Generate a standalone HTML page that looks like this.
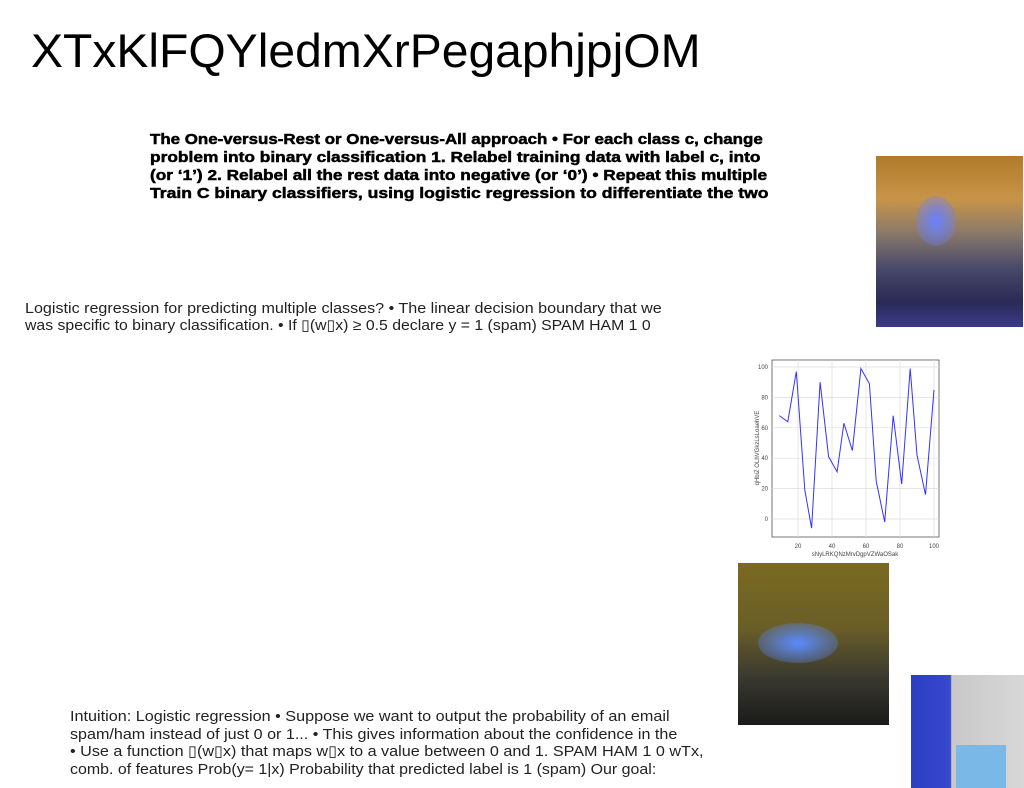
<!DOCTYPE html>
<html><head><meta charset="utf-8"><style>
body{margin:0;width:1024px;height:788px;background:#fff;position:relative;overflow:hidden;font-family:"Liberation Sans",sans-serif}
.ln{position:absolute;white-space:nowrap;transform-origin:0 0;line-height:18px}
.b{font-weight:900;font-size:15px;color:#000;-webkit-text-stroke:0.5px #000}
.n{font-size:15px;color:#222}
.img{position:absolute}
</style></head><body>
<div class="ln" data-w="670" style="left:31px;top:24px;font-size:47px;line-height:54px;color:#000">XTxKlFQYledmXrPegaphjpjOM</div>

<div>
<div class="ln b" data-w="613" style="left:150px;top:131px">The One-versus-Rest or One-versus-All approach • For each class c, change</div>
<div class="ln b" data-w="610" style="left:150px;top:149px">problem into binary classification 1. Relabel training data with label c, into</div>
<div class="ln b" data-w="617" style="left:150px;top:167px">(or ‘1’) 2. Relabel all the rest data into negative (or ‘0’) • Repeat this multiple</div>
<div class="ln b" data-w="618" style="left:150px;top:185px">Train C binary classifiers, using logistic regression to differentiate the two</div>
</div>

<div>
<div class="ln n" data-w="637" style="left:25px;top:300px">Logistic regression for predicting multiple classes? • The linear decision boundary that we</div>
<div class="ln n" data-w="626" style="left:25px;top:317px">was specific to binary classification. • If ▯(w▯x) ≥ 0.5 declare y = 1 (spam) SPAM HAM 1 0</div>
</div>

<div>
<div class="ln n" data-w="600" style="left:70px;top:708px">Intuition: Logistic regression • Suppose we want to output the probability of an email</div>
<div class="ln n" data-w="607" style="left:70px;top:726px">spam/ham instead of just 0 or 1... • This gives information about the confidence in the</div>
<div class="ln n" data-w="633" style="left:70px;top:743px">• Use a function ▯(w▯x) that maps w▯x to a value between 0 and 1. SPAM HAM 1 0 wTx,</div>
<div class="ln n" data-w="586" style="left:70px;top:761px">comb. of features Prob(y= 1|x) Probability that predicted label is 1 (spam) Our goal:</div>
</div>

<div class="img" style="left:876px;top:156px;width:147px;height:171px;background:linear-gradient(180deg,#b07a2a 0%,#c89448 25%,#8a7a6a 45%,#4a4a6a 65%,#2a2a55 85%,#3a3a8a 100%)">
<div style="position:absolute;left:40px;top:40px;width:40px;height:50px;border-radius:50%;background:radial-gradient(#6a80ff,rgba(40,40,160,0))"></div></div>
<div class="img" style="left:738px;top:563px;width:151px;height:162px;background:linear-gradient(180deg,#7a6a20 0%,#6a5e28 40%,#3a3a30 70%,#1a1a1a 100%)">
<div style="position:absolute;left:20px;top:60px;width:80px;height:40px;border-radius:50%;background:radial-gradient(#5a8aff,rgba(40,60,200,0))"></div></div>
<div class="img" style="left:911px;top:675px;width:113px;height:113px;background:linear-gradient(90deg,#2a3ec0 0%,#3848d0 35%,#c8c8c8 36%,#d8d8d8 100%)">
<div style="position:absolute;left:45px;top:70px;width:50px;height:43px;background:#7ab8e8"></div></div>

<svg id="chart" style="position:absolute;left:738px;top:355px" width="210" height="205"></svg>
<script>
const xs=[9,14,19,24,28,33,38,43,47,52,57,62,66,71,76,81,86,90,95,100];
const ys=[68,64,97,19,-6,90,41,31,63,45,99,89,25,-2,68,23,99,42,16,85];
const xTicks=[20,40,60,80,100];
const yTicks=[0,20,40,60,80,100];
const ox=738,oy=355;
const X=v=>798+(v-20)*(934-798)/80-ox;
const Y=v=>519-v*(519-367)/100-oy;
const svg=document.getElementById('chart');
const NS='http://www.w3.org/2000/svg';
function mk(t,a){const e=document.createElementNS(NS,t);for(const k in a)e.setAttribute(k,a[k]);svg.appendChild(e);return e;}
const fr=mk('rect',{x:772-ox,y:360-oy,width:167,height:177,fill:'#fff',stroke:'#555','stroke-width':0.8});


xTicks.forEach(t=>{const g=mk('line',{x1:X(t),x2:X(t),y1:360-oy,y2:537-oy,stroke:'#ddd','stroke-width':0.7});


const l=mk('text',{x:X(t),y:548-oy,'font-size':6,'text-anchor':'middle',fill:'#444'});l.textContent=t;

});
yTicks.forEach(t=>{const g=mk('line',{x1:772-ox,x2:939-ox,y1:Y(t),y2:Y(t),stroke:'#ddd','stroke-width':0.7});


const l=mk('text',{x:768-ox,y:Y(t)+2,'font-size':6,'text-anchor':'end',fill:'#444'});l.textContent=t;

});
const p=mk('polyline',{points:xs.map((x,i)=>X(x)+','+Y(ys[i])).join(' '),fill:'none',stroke:'#3333ff','stroke-width':1});


const xl=mk('text',{x:855-ox,y:556-oy,'font-size':6,'text-anchor':'middle',fill:'#444'});xl.textContent='sNyLRKQNzMrvDgpVZWaOSak';


const yl=mk('text',{x:0,y:0,'font-size':6,'text-anchor':'middle',fill:'#444',transform:'translate('+(759-ox)+','+(448-oy)+') rotate(-90)'});yl.textContent='qHbiZ OLhVGkzLsLoaehVE';


document.querySelectorAll('.ln').forEach(e=>{const w=+e.dataset.w;const s=w/e.scrollWidth;e.style.transform='scaleX('+s+')';});
</script>
</body></html>
